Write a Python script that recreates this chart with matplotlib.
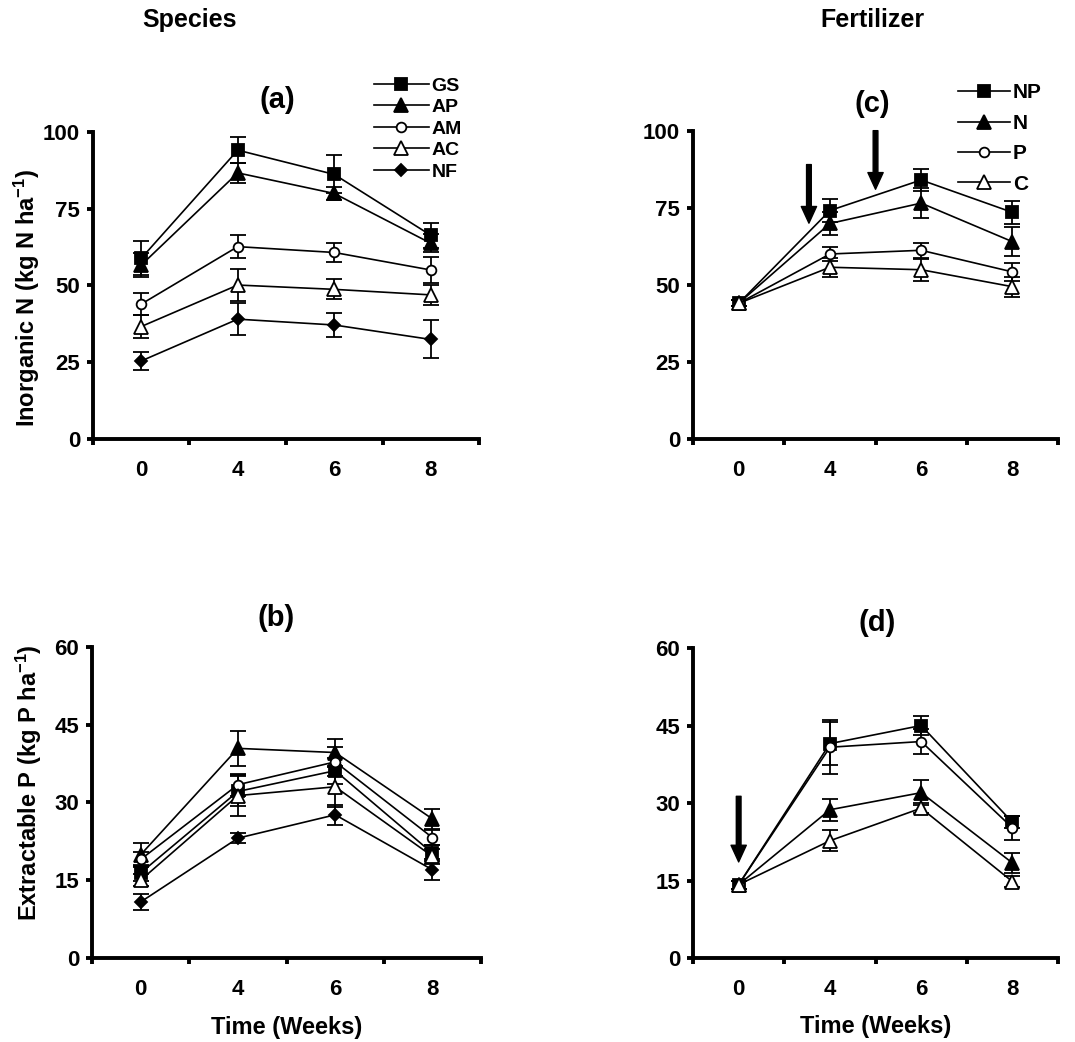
#!/usr/bin/env python3
"""
Soil inorganic N and extractable P over the incubation weeks.

Left column groups the means by species, right column by fertilizer
treatment. Error bars are standard errors.
"""

import matplotlib.pyplot as plt

plt.rcParams["font.family"] = ["Liberation Sans", "DejaVu Sans"]
plt.rcParams["font.weight"] = "bold"
plt.rcParams["mathtext.fontset"] = "custom"
plt.rcParams["mathtext.rm"] = "Liberation Sans:bold"
plt.rcParams["mathtext.default"] = "rm"

weeks = ["0", "4", "6", "8"]

species = ["GS", "AP", "AM", "AC", "NF"]
fertilizers = ["NP", "N", "P", "C"]

# (a) inorganic N by species
n_species = [
    [58.8, 94.0, 86.1, 66.3],  # GS
    [56.6, 86.6, 79.9, 63.7],  # AP
    [43.9, 62.6, 60.7, 55.0],  # AM
    [36.6, 50.1, 48.7, 46.9],  # AC
    [25.4, 39.0, 37.1, 32.4],  # NF
]
n_species_err = [
    [5.5, 4.2, 6.2, 4.0],
    [3.8, 3.3, 2.0, 3.0],
    [3.7, 3.8, 3.0, 4.1],
    [3.7, 5.1, 3.3, 3.2],
    [3.0, 5.2, 4.0, 6.2],
]

# (b) extractable P by species
p_species = [
    [16.4, 32.1, 36.1, 20.2],  # GS
    [19.9, 40.4, 39.6, 26.8],  # AP
    [19.0, 33.4, 37.8, 23.2],  # AM
    [15.0, 31.3, 33.0, 19.6],  # AC
    [10.8, 23.1, 27.6, 17.0],  # NF
]
p_species_err = [
    [1.5, 2.9, 2.5, 1.6],
    [2.2, 3.4, 2.6, 1.9],
    [1.5, 2.1, 2.8, 1.5],
    [1.2, 4.0, 3.9, 1.5],
    [1.5, 1.0, 1.9, 2.0],
]

# (c) inorganic N by fertilizer
n_fert = [
    [44.0, 74.1, 84.0, 73.5],  # NP
    [44.0, 69.9, 76.5, 64.0],  # N
    [44.0, 60.0, 61.2, 54.2],  # P
    [44.0, 55.7, 54.9, 49.4],  # C
]
n_fert_err = [
    [1.0, 3.7, 3.6, 3.8],
    [1.0, 3.8, 4.8, 4.6],
    [1.0, 2.4, 2.5, 2.9],
    [1.0, 3.0, 3.6, 3.3],
]

# (d) extractable P by fertilizer
p_fert = [
    [14.2, 41.5, 45.0, 26.3],  # NP
    [14.2, 28.7, 32.0, 18.4],  # N
    [14.2, 40.8, 41.9, 25.2],  # P
    [14.2, 22.7, 29.0, 14.8],  # C
]
p_fert_err = [
    [0.8, 4.1, 1.8, 1.1],
    [0.8, 2.1, 2.4, 2.0],
    [0.8, 5.2, 2.5, 2.3],
    [0.8, 2.0, 1.0, 1.0],
]

# fertilizer application arrows: (position on time axis, top, tip)
n_arrows = [(1.27, 89.0, 70.0), (2.0, 100.0, 81.0)]
p_arrows = [(0.5, 31.3, 18.6)]

SPECIES_MARKERS = {
    "GS": ("s", "black", 8),
    "AP": ("^", "black", 9.5),
    "AM": ("o", "white", 7),
    "AC": ("^", "white", 9.5),
    "NF": ("D", "black", 6.5),
}
FERT_MARKERS = {
    "NP": ("s", "black", 8),
    "N": ("^", "black", 9.5),
    "P": ("o", "white", 7),
    "C": ("^", "white", 9.5),
}


def style_axes(ax, ymax, ystep):
    """Heavy left/bottom axes, ticks between the week categories."""
    for side in ("top", "right"):
        ax.spines[side].set_visible(False)
    for side in ("left", "bottom"):
        ax.spines[side].set_linewidth(2.8)

    ax.set_xlim(0, len(weeks))
    ax.set_ylim(0, ymax)
    ax.set_yticks(range(0, ymax + 1, ystep))
    ax.set_xticks(range(len(weeks) + 1))
    ax.set_xticklabels([])
    ax.set_xticks([i + 0.5 for i in range(len(weeks))], minor=True)
    ax.set_xticklabels(weeks, minor=True)

    ax.tick_params(axis="both", which="major", direction="out", length=4.3,
                   width=2.8, labelsize=16, pad=5)
    ax.tick_params(axis="x", which="minor", length=0, labelsize=16, pad=15)


def draw_series(ax, names, values, errors, markers):
    """Plot each treatment as a line with markers and capped error bars."""
    handles = []
    pos = [i + 0.5 for i in range(len(weeks))]
    for name, vals, errs in zip(names, values, errors):
        marker, face, size = markers[name]
        cont = ax.errorbar(
            pos, vals, yerr=errs,
            color="black", linewidth=1.2,
            marker=marker, markersize=size, markerfacecolor=face,
            markeredgecolor="black", markeredgewidth=1.3,
            ecolor="black", elinewidth=1.3, capsize=6, capthick=1.3,
            clip_on=False,
        )
        handles.append(cont[0])
    return handles


def draw_arrows(ax, arrows):
    """Downward arrows marking fertilizer applications."""
    for x, top, tip in arrows:
        ax.annotate(
            "", xy=(x, tip), xytext=(x, top),
            arrowprops=dict(facecolor="black", edgecolor="black", width=3.4,
                            headwidth=11, headlength=12, shrink=0),
            annotation_clip=False,
        )


def add_panel_label(ax, label, x, y):
    ax.text(x, y, label, transform=ax.transAxes, ha="center", va="center",
            fontsize=21, fontweight="bold")


def main():
    fig = plt.figure(figsize=(10.75, 10.42), dpi=100)

    ax_a = fig.add_axes([0.0865, 0.5787, 0.3591, 0.2949])
    ax_c = fig.add_axes([0.6447, 0.5787, 0.3395, 0.2959])
    ax_b = fig.add_axes([0.0856, 0.0806, 0.3619, 0.2988])
    ax_d = fig.add_axes([0.6447, 0.0806, 0.3395, 0.2975])

    for ax in (ax_a, ax_c):
        style_axes(ax, 100, 25)
    for ax in (ax_b, ax_d):
        style_axes(ax, 60, 15)

    h_species = draw_series(ax_a, species, n_species, n_species_err, SPECIES_MARKERS)
    draw_series(ax_b, species, p_species, p_species_err, SPECIES_MARKERS)
    h_fert = draw_series(ax_c, fertilizers, n_fert, n_fert_err, FERT_MARKERS)
    draw_series(ax_d, fertilizers, p_fert, p_fert_err, FERT_MARKERS)

    draw_arrows(ax_c, n_arrows)
    draw_arrows(ax_d, p_arrows)

    # legends sit above the plotting area, to the right of the panel label
    ax_a.legend(h_species, species, loc="upper left",
                bbox_to_anchor=(0.348, 0.926), bbox_transform=fig.transFigure,
                frameon=False, borderpad=0, borderaxespad=0, fontsize=14,
                handlelength=2.8, handletextpad=0.15, labelspacing=0.2)
    ax_c.legend(h_fert, fertilizers, loc="upper left",
                bbox_to_anchor=(0.891, 0.92), bbox_transform=fig.transFigure,
                frameon=False, borderpad=0, borderaxespad=0, fontsize=15,
                handlelength=2.5, handletextpad=0.15, labelspacing=0.55)

    add_panel_label(ax_a, "(a)", 0.477, 1.104)
    add_panel_label(ax_b, "(b)", 0.473, 1.092)
    add_panel_label(ax_c, "(c)", 0.49, 1.085)
    add_panel_label(ax_d, "(d)", 0.504, 1.08)

    ax_a.set_ylabel("Inorganic N (kg N ha$^{-1}$)", fontsize=17, fontweight="bold")
    ax_a.yaxis.set_label_coords(-0.132, 0.458)
    ax_b.set_ylabel("Extractable P (kg P ha$^{-1}$)", fontsize=17, fontweight="bold")
    ax_b.yaxis.set_label_coords(-0.123, 0.564)

    for ax in (ax_b, ax_d):
        ax.set_xlabel("Time (Weeks)", fontsize=17, fontweight="bold")
        ax.xaxis.set_label_coords(0.5, -0.185)

    fig.text(190 / 1075, 1 - 20 / 1042, "Species", ha="center", va="center",
             fontsize=18, fontweight="bold")
    fig.text(872 / 1075, 1 - 20 / 1042, "Fertilizer", ha="center", va="center",
             fontsize=18, fontweight="bold")

    fig.savefig("out.png", dpi=100, facecolor="white")


if __name__ == "__main__":
    main()
